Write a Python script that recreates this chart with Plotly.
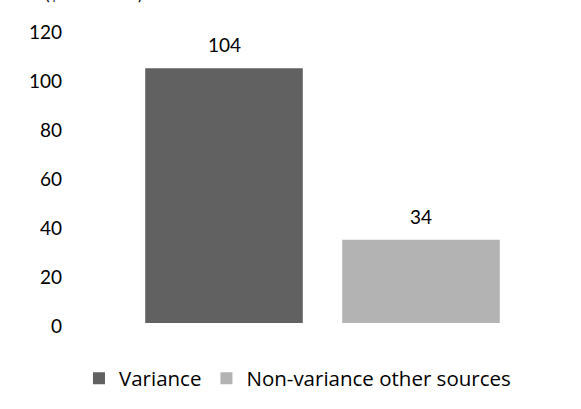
import plotly.graph_objects as go

categories = ["Variance", "Non-variance other sources"]
values = [104, 34]
colors = ["#616161", "#b3b3b3"]
y_ticks = [0, 20, 40, 60, 80, 100, 120]

FONT = "Lato, Carlito, Calibri, sans-serif"
LEGEND_FONT = "Open Sans, sans-serif"

fig = go.Figure()
for i, (name, val, col) in enumerate(zip(categories, values, colors)):
    fig.add_trace(go.Bar(
        x=[i], y=[val], name=name, marker=dict(color=col, line=dict(width=0)),
        width=0.8,
    ))
    # value label above each bar
    fig.add_annotation(x=i, y=val, text=str(val), showarrow=False,
                       xanchor="center", yanchor="bottom", yshift=10,
                       font=dict(size=19, color="#000000", family=FONT))

fig.update_layout(
    width=581, height=409,
    margin=dict(l=68, r=56, t=29, b=86),
    paper_bgcolor="white", plot_bgcolor="white",
    barmode="overlay",
    font=dict(family=FONT, size=19, color="#000000"),
    showlegend=True,
    legend=dict(orientation="h", xref="container", x=0.512, xanchor="center",
                yref="container", y=0.075, yanchor="middle",
                font=dict(size=20.5, family=LEGEND_FONT, color="#000000"),
                itemwidth=30, traceorder="normal"),
    xaxis=dict(range=[-0.792, 1.528], showticklabels=False, showgrid=False,
               zeroline=False, showline=False, ticks=""),
    yaxis=dict(range=[0, 120], tickvals=y_ticks, showgrid=False, zeroline=False,
               showline=False, ticks="", ticklabelstandoff=5, ticklabelshift=3,
               tickfont=dict(size=19, family=FONT)),
)

# units note above the value axis
fig.add_annotation(text="($ in millions)", xref="paper", yref="paper",
                   x=-0.0547, xanchor="left", y=1.122, yanchor="middle",
                   showarrow=False, font=dict(size=17, family=FONT))

fig.write_html("out.html")
